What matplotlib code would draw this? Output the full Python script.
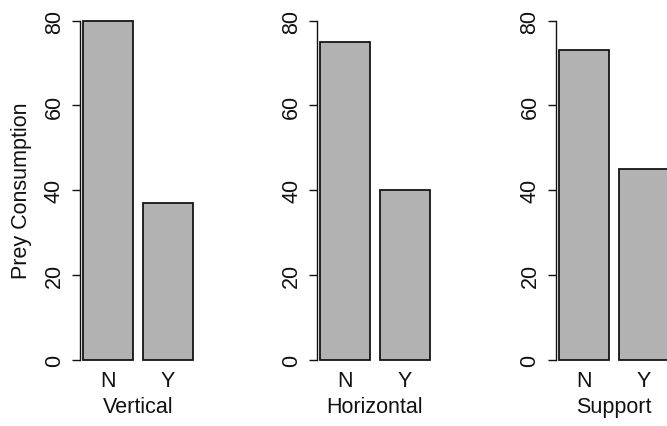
import matplotlib
matplotlib.use("Agg")
import matplotlib.pyplot as plt

panels = ["Vertical", "Horizontal", "Support"]
groups = ["N", "Y"]
consumption = {
    "Vertical": [80, 37],
    "Horizontal": [75, 40],
    "Support": [73, 45],
}
yticks = [0, 20, 40, 60, 80]

plt.rcParams["font.family"] = ["Liberation Sans", "DejaVu Sans"]
plt.rcParams["font.size"] = 15.5
TXT = "#111111"

W, H = 667, 427
fig = plt.figure(figsize=(W / 100, H / 100), dpi=100)

unit_px = 50.0
xlo, xhi = 0.14, 2.46
ylo, yhi = -1.5, 83.2
ax_w = (xhi - xlo) * unit_px / W
ax_b = 0.14037
ax_h = 0.8406
lefts = [80, 317, 555.5]

for i, (name, left) in enumerate(zip(panels, lefts)):
    ax = fig.add_axes([left / W, ax_b, ax_w, ax_h])
    vals = consumption[name]
    xs = [0.2 + 1.2 * k + 0.5 for k in range(len(vals))]
    ax.bar(xs, vals, width=1.0, color="#b2b2b2", edgecolor="#151515", linewidth=1.3)
    ax.set_xlim(xlo, xhi); ax.set_ylim(ylo, yhi)
    for s in ["top", "right", "bottom"]:
        ax.spines[s].set_visible(False)
    ax.spines["left"].set_bounds(0, 80)
    ax.spines["left"].set_linewidth(1.0)
    ax.spines["left"].set_color(TXT)
    ax.set_yticks(yticks)
    ax.set_yticklabels([str(t) for t in yticks], rotation=90, va="center")
    ax.tick_params(axis="y", length=5.8, width=1.0, pad=5.0, colors=TXT)
    ax.set_xticks(xs)
    ax.set_xticklabels(groups)
    ax.tick_params(axis="x", length=0, pad=3.0, colors=TXT)
    ax.set_xlabel(name, labelpad=3.5, color=TXT)
    if i == 0:
        ax.set_ylabel("Prey Consumption", color=TXT)
        ax.yaxis.set_label_coords(-48 / ((xhi - xlo) * unit_px), (40 - ylo) / (yhi - ylo))

fig.savefig("out.png", dpi=100)
